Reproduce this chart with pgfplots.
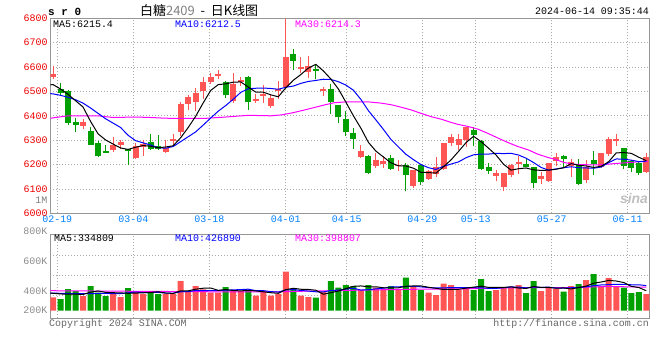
\documentclass[border=0pt]{standalone}
\usepackage{pgfplots}
\pgfplotsset{compat=1.18}
\usepackage{pgfplotstable}
\usepackage{fontspec}
\setmonofont{Liberation Mono}
\newfontfamily\cjk{Noto Sans CJK SC}
\newfontfamily\sinafont{Liberation Sans}
\definecolor{upred}{RGB}{255,85,85}
\definecolor{dngreen}{RGB}{0,160,0}
\definecolor{datecol}{RGB}{0,128,255}
\definecolor{ticred}{RGB}{235,0,0}
\definecolor{gridc}{RGB}{170,170,170}
\definecolor{framec}{RGB}{150,150,150}
\definecolor{magc}{RGB}{255,0,255}
\definecolor{bluec}{RGB}{0,0,255}
\newcommand\tf{\ttfamily\fontsize{10}{12}\selectfont}

\pgfplotstableread{
k o h l c v
-1 6559 6604 6550 6573 228
3 6359 6386 6345 6375 250
7 6260 6314 6251 6279 306
8 6279 6301 6262 6293 233
10 6226 6287 6222 6277 318
11 6271 6299 6234 6285 284
14 6251 6300 6248 6267 284
15 6298 6324 6280 6305 284
16 6332 6456 6318 6450 505
17 6449 6485 6425 6476 335
18 6458 6516 6420 6493 420
19 6503 6560 6470 6540 364
20 6540 6574 6530 6560 306
21 6562 6588 6552 6573 306
23 6460 6574 6454 6529 335
24 6541 6560 6522 6545 335
26 6462 6488 6454 6466 255
27 6482 6525 6452 6487 335
28 6442 6490 6430 6472 255
29 6503 6542 6470 6508 284
30 6520 6797 6518 6642 663
32 6596 6640 6576 6600 255
33 6578 6646 6555 6605 233
35 6503 6520 6482 6508 323
40 6233 6282 6226 6256 352
42 6192 6246 6185 6218 391
43 6201 6236 6185 6214 352
45 6195 6219 6174 6199 352
47 6113 6178 6102 6177 420
49 6140 6176 6137 6174 306
50 6160 6233 6147 6190 267
51 6181 6290 6178 6287 459
52 6287 6324 6277 6313 437
53 6279 6324 6259 6304 352
54 6301 6356 6274 6354 403
58 6154 6177 6133 6165 352
59 6106 6167 6092 6165 403
60 6156 6202 6147 6200 403
61 6205 6236 6160 6209 437
64 6140 6170 6120 6154 335
65 6133 6207 6130 6205 403
66 6214 6246 6195 6229 369
68 6195 6222 6151 6211 420
70 6137 6219 6124 6190 522
72 6188 6248 6184 6246 420
73 6242 6311 6236 6304 556
74 6299 6324 6277 6303 403
78 6170 6246 6167 6233 284
}\upT

\pgfplotstableread{
k o h l c v
0 6509 6533 6481 6495 199
1 6502 6505 6361 6372 369
2 6375 6390 6334 6363 335
4 6337 6356 6279 6282 420
5 6287 6297 6229 6236 306
6 6255 6282 6247 6248 250
9 6262 6265 6200 6256 386
12 6292 6326 6258 6265 335
13 6276 6322 6260 6264 284
22 6540 6542 6475 6487 403
25 6560 6562 6425 6458 352
31 6653 6674 6589 6623 369
34 6594 6612 6553 6585 221
36 6511 6532 6406 6457 505
37 6443 6445 6372 6395 391
38 6386 6420 6318 6334 437
39 6328 6348 6263 6304 420
41 6236 6238 6160 6165 437
44 6226 6238 6178 6181 420
46 6200 6208 6092 6156 561
48 6200 6202 6117 6129 352
55 6342 6356 6277 6320 352
56 6297 6299 6177 6181 539
57 6190 6208 6160 6174 335
62 6201 6222 6188 6190 301
63 6188 6190 6102 6126 505
67 6234 6238 6184 6222 323
69 6197 6222 6115 6119 454
71 6218 6255 6156 6201 624
75 6267 6269 6181 6195 391
76 6215 6217 6170 6186 301
77 6208 6215 6156 6165 318
}\dnT

\pgfplotsset{
  kpanel/.style={
    scale only axis, anchor=north west, width=599bp,
    xmin=-1.36, xmax=78.4,
    axis line style={draw=framec, line width=1bp},
    major tick length=0pt, tick pos=left,
    xtick={-0.43,9.69,19.81,29.99,38.11,48.18,55.29,65.41,75.52},
    xmajorgrids, ymajorgrids,
    grid style={draw=gridc, line width=0.8bp, dash pattern=on 1bp off 2bp},
  },
  wick/.style={draw=none, mark=none, forget plot,
    error bars/.cd, y dir=both, y explicit, error mark=none,
    error bar style={draw=#1, line width=1bp}},
  body/.style={draw=none, mark=none, forget plot,
    error bars/.cd, y dir=both, y explicit, error mark=none,
    error bar style={draw=#1, line width=6bp}},
}

\begin{document}
\begin{tikzpicture}
\path (0bp,0bp) rectangle (660bp,-360bp);

% ---------------- price panel ----------------
\begin{axis}[kpanel, at={(50.3bp,-18.3bp)}, height=195bp,
  ymin=6000, ymax=6800,
  ytick={6000,6100,6200,6300,6400,6500,6600,6700,6800},
  yticklabels={6000,6100,6200,6300,6400,6500,6600,6700,6800},
  xticklabels={02-19,03-04,03-18,04-01,04-15,04-29,05-13,05-27,06-11},
  xticklabel style={font=\tf, text=datecol, inner sep=2bp},
  yticklabel style={font=\tf, text=ticred, inner sep=2.5bp},
]
\addplot[wick=upred] table[x=k, y expr={(\thisrow{h}+\thisrow{l})/2}, y error expr={(\thisrow{h}-\thisrow{l})/2}] {\upT};
\addplot[body=upred] table[x=k, y expr={(\thisrow{o}+\thisrow{c})/2}, y error expr={max(abs(\thisrow{c}-\thisrow{o})/2,3)}] {\upT};
\addplot[wick=dngreen] table[x=k, y expr={(\thisrow{h}+\thisrow{l})/2}, y error expr={(\thisrow{h}-\thisrow{l})/2}] {\dnT};
\addplot[body=dngreen] table[x=k, y expr={(\thisrow{o}+\thisrow{c})/2}, y error expr={max(abs(\thisrow{c}-\thisrow{o})/2,3)}] {\dnT};

% MA30
\addplot[magc, line width=1bp] coordinates {(-1.36,6390) (1,6400) (5,6400) (7,6393) (10,6395) (12,6393) (14,6390) (19,6389) (22,6395) (25,6402) (28,6400) (29.5,6404) (31,6413) (32.5,6424) (33.8,6434) (35.2,6445) (36.5,6454) (38,6457) (41,6457) (42.7,6452) (44.1,6445) (45.4,6435) (46.7,6424) (48,6410) (49.4,6396) (50.7,6386) (51.9,6374) (52.9,6365) (54.3,6356) (55.6,6345) (56.9,6328) (58.3,6308) (59.6,6290) (60.9,6274) (62.3,6260) (63.6,6242) (64.9,6229) (65.8,6222) (67.1,6208) (68.5,6201) (70.2,6199) (72,6199) (73.8,6204) (75.6,6208) (76.9,6211) (78.2,6213)};
% MA10
\addplot[bluec, line width=1bp] coordinates {(-1.36,6491) (-1,6490) (0,6484) (1,6476) (2,6466) (3,6452) (4,6432) (5,6410) (6,6388) (7,6370) (8,6352) (9,6320) (10,6298) (11,6289) (12,6280) (13,6269) (14,6267) (15,6274) (16,6294) (17,6314) (18,6334) (19,6362) (20,6391) (21,6419) (22,6442) (23,6468) (24,6496) (25,6511) (26,6513) (27,6514) (28,6512) (29,6509) (30,6517) (31,6522) (32,6533) (33,6541) (34,6545) (35,6550) (36,6549) (37,6540) (38,6526) (39,6505) (40,6467) (41,6421) (42,6383) (43,6344) (44,6303) (45,6272) (46,6242) (47,6220) (48,6200) (49,6187) (50,6180) (51,6193) (52,6202) (53,6211) (54,6228) (55,6240) (56,6243) (57,6243) (58,6246) (59,6245) (60,6246) (61,6239) (62,6226) (63,6208) (64,6188) (65,6177) (66,6182) (67,6187) (68,6191) (69,6187) (70,6186) (71,6185) (72,6190) (73,6208) (74,6223) (75,6222) (76,6218) (77,6212) (78,6214)};
% MA5
\addplot[black, line width=1bp] coordinates {(-1.36,6527) (-1,6528) (0,6510) (1,6488) (2,6462) (3,6436) (4,6377) (5,6326) (6,6301) (7,6284) (8,6268) (9,6262) (10,6271) (11,6278) (12,6275) (13,6269) (14,6272) (15,6277) (16,6310) (17,6352) (18,6398) (19,6453) (20,6504) (21,6528) (22,6531) (23,6538) (24,6539) (25,6518) (26,6497) (27,6497) (28,6486) (29,6478) (30,6515) (31,6546) (32,6569) (33,6596) (34,6611) (35,6584) (36,6551) (37,6510) (38,6456) (39,6400) (40,6349) (41,6291) (42,6255) (43,6231) (44,6207) (45,6195) (46,6194) (47,6185) (48,6168) (49,6167) (50,6165) (51,6191) (52,6219) (53,6254) (54,6290) (55,6316) (56,6294) (57,6267) (58,6239) (59,6201) (60,6177) (61,6183) (62,6186) (63,6178) (64,6176) (65,6177) (66,6181) (67,6187) (68,6204) (69,6197) (70,6194) (71,6188) (72,6193) (73,6212) (74,6248) (75,6249) (76,6246) (77,6230) (78,6216)};
\end{axis}

% ---------------- volume panel ----------------
\begin{axis}[kpanel, at={(50.3bp,-234bp)}, height=84bp,
  ymin=-124, ymax=1304,
  ytick={267,607,947}, yticklabels={,,,}, xticklabels={,,,,,,,,,},
]
\addplot[ybar, bar width=6bp, bar shift=0pt, fill=upred, draw=none, forget plot] table[x=k, y=v] {\upT};
\addplot[ybar, bar width=6bp, bar shift=0pt, fill=dngreen, draw=none, forget plot] table[x=k, y=v] {\dnT};
\addplot[magc, line width=1bp] coordinates {(-1.36,340) (10,330) (20,322) (28,319) (33,333) (38,345) (43,357) (48,366) (53,370) (58,385) (63,393) (68,392) (73,413) (78,399)};
\addplot[bluec, line width=1bp] coordinates {(-1.36,300) (0,296) (1,293) (2,291) (3,290) (4,291) (5,293) (6,293) (7,292) (8,290) (9,305) (10,317) (11,309) (12,309) (13,312) (14,299) (15,296) (16,322) (17,325) (18,344) (19,341) (20,340) (21,342) (22,349) (23,354) (24,359) (25,366) (26,341) (27,341) (28,325) (29,317) (30,352) (31,359) (32,344) (33,334) (34,322) (35,319) (36,344) (37,350) (38,368) (39,382) (40,351) (41,357) (42,371) (43,383) (44,403) (45,406) (46,411) (47,414) (48,406) (49,394) (50,386) (51,388) (52,393) (53,393) (54,391) (55,391) (56,389) (57,380) (58,380) (59,390) (60,404) (61,401) (62,388) (63,403) (64,396) (65,401) (66,384) (67,383) (68,390) (69,395) (70,407) (71,426) (72,438) (73,443) (74,449) (75,448) (76,441) (77,441) (78,427)};
\addplot[black, line width=1bp] coordinates {(-1.36,300) (0,285) (1,280) (2,282) (3,276) (4,315) (5,336) (6,312) (7,306) (8,303) (9,296) (10,299) (11,305) (12,311) (13,321) (14,301) (15,294) (16,338) (17,338) (18,366) (19,382) (20,386) (21,346) (22,360) (23,343) (24,337) (25,346) (26,336) (27,322) (28,306) (29,296) (30,358) (31,381) (32,365) (33,361) (34,348) (35,280) (36,307) (37,335) (38,375) (39,415) (40,421) (41,407) (42,407) (43,390) (44,390) (45,390) (46,415) (47,421) (48,421) (49,398) (50,381) (51,361) (52,364) (53,364) (54,384) (55,401) (56,417) (57,396) (58,396) (59,396) (60,406) (61,386) (62,379) (63,410) (64,396) (65,396) (66,383) (67,387) (68,370) (69,394) (70,418) (71,469) (72,488) (73,515) (74,505) (75,479) (76,414) (77,394) (78,339)};
\end{axis}

% ---------------- texts ----------------
\node[anchor=west, font=\ttfamily\bfseries\fontsize{11}{13}\selectfont, inner sep=0pt] at (48bp,-12bp) {s r 0};
\node[anchor=west, font=\cjk\fontsize{13}{15}\selectfont, inner sep=0pt] at (140bp,-11bp) {白糖\textcolor{gray}{2409}\ \ -\ \ 日K线图};
\node[anchor=east, font=\tf, inner sep=0pt] at (649bp,-11bp) {2024-06-14 09:35:44};
\node[anchor=west, font=\tf, inner sep=0pt] at (53bp,-24bp) {MA5:6215.4};
\node[anchor=west, font=\tf, inner sep=0pt, text=bluec] at (175bp,-24bp) {MA10:6212.5};
\node[anchor=west, font=\tf, inner sep=0pt, text=magc] at (295bp,-24bp) {MA30:6214.3};
\node[anchor=east, font=\tf, inner sep=0pt, text=gray] at (47.5bp,-200bp) {1M};
\node[font=\sinafont\bfseries\itshape\fontsize{14}{14}\selectfont, text=black!25, inner sep=0pt] at (634bp,-199bp) {sina};
\node[anchor=east, font=\tf, inner sep=0pt, text=black!45] at (47.5bp,-231bp) {800K};
\node[anchor=east, font=\tf, inner sep=0pt, text=black!45] at (47.5bp,-261.5bp) {600K};
\node[anchor=east, font=\tf, inner sep=0pt, text=black!45] at (47.5bp,-291bp) {400K};
\node[anchor=east, font=\tf, inner sep=0pt, text=black!45] at (47.5bp,-310bp) {200K};
\node[anchor=west, font=\tf, inner sep=0pt] at (54bp,-238bp) {MA5:334809};
\node[anchor=west, font=\tf, inner sep=0pt, text=bluec] at (175bp,-238bp) {MA10:426890};
\node[anchor=west, font=\tf, inner sep=0pt, text=magc] at (295bp,-238bp) {MA30:398807};
\node[anchor=west, font=\tf, inner sep=0pt, text=black!60] at (49bp,-324bp) {Copyright 2024 SINA.COM};
\node[anchor=east, font=\tf, inner sep=0pt, text=black!60] at (649bp,-324bp) {http://finance.sina.com.cn};
\end{tikzpicture}
\end{document}
